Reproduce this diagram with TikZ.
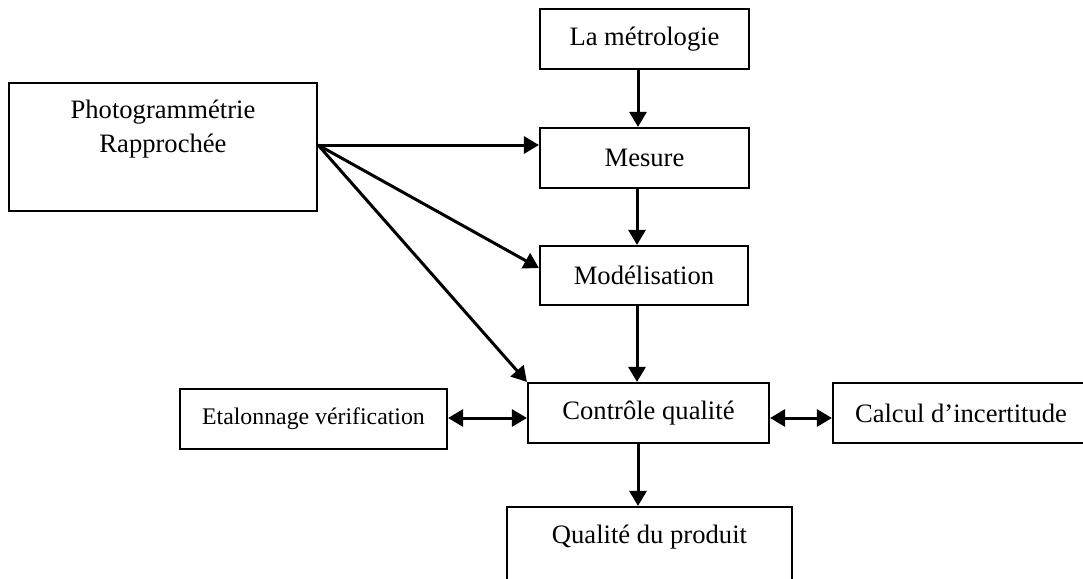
\documentclass[tikz,border=0pt]{standalone}
\usepackage{fontspec}
\setmainfont{Liberation Serif}
\usetikzlibrary{arrows.meta,calc}
\begin{document}
\begin{tikzpicture}[x=0.5pt,y=-0.5pt,
  box/.style={draw,line width=1.1pt,inner sep=0pt,font=\fontsize{13.3}{17}\selectfont},
  lbl/.style={inner sep=0pt,font=\fontsize{13.3}{17}\selectfont,align=center},
  link/.style={line width=1.5pt,-{Triangle[length=7.5pt,width=8.5pt]}},
  both/.style={line width=1.5pt,{Triangle[length=7.5pt,width=8.5pt]}-{Triangle[length=7.5pt,width=8.5pt]}}]
\useasboundingbox (0,0) rectangle (1083,579);
\fill[white] (0,0) rectangle (1083,579);
\clip (0,0) rectangle (1083,579);

% boxes
\node[box,minimum width=104.5pt,minimum height=30pt] (metro) at (644.5,39) {La métrologie};
\node[box,minimum width=154pt,minimum height=64pt] (photo) at (163,147) {};
\node[lbl,anchor=north] (phototxt) at (163,100) {Photogrammétrie\\Rapprochée};
\node[box,minimum width=104.5pt,minimum height=30pt] (mesure) at (644.5,158) {Mesure};
\node[box,minimum width=104pt,minimum height=29.5pt] (model) at (644,275.5) {Modélisation};
\node[box,minimum width=120.5pt,minimum height=30pt] (ctrl) at (648.5,413) {Contrôle qualité};
\node[box,minimum width=133.5pt,minimum height=30pt,font=\fontsize{11.9}{14}\selectfont] (etal) at (313.5,419) {Etalonnage vérification};
\node[box,minimum width=128pt,minimum height=30pt] (calc) at (961,413) {Calcul d’incertitude};
\node[box,minimum width=142.5pt,minimum height=60pt] (qual) at (649.5,567) {};
\node[lbl,anchor=base] (qualtxt) at (649.5,543) {Qualité du produit};

% vertical chain
\draw[link] ($(metro.south)+(-6.5,0)$) -- ($(mesure.north)+(-6.5,0)$);
\draw[link] ($(mesure.south)+(-7.5,0)$) -- ($(model.north)+(-7,0)$);
\draw[link] ($(model.south)+(-7,0)$) -- ($(ctrl.north)+(-11.5,0)$);
\draw[link] ($(ctrl.south)+(-10.5,0)$) -- ($(qual.north)+(-11.5,0)$);

% fan out of the photogrammetry box
\coordinate (pe) at ($(photo.east)+(0,-2)$);
\draw[link] (pe) -- (pe -| mesure.west);
\draw[link] (pe) -- ($(model.west)+(0,-7.5)$);
\draw[link] (pe) -- (ctrl.north west);

% two-way links
\draw[both] ($(etal.east)+(0,-1)$) -- ($(ctrl.west)+(0,5)$);
\draw[both] ($(ctrl.east)+(0,5)$) -- ($(calc.west)+(0,5)$);
\end{tikzpicture}
\end{document}
